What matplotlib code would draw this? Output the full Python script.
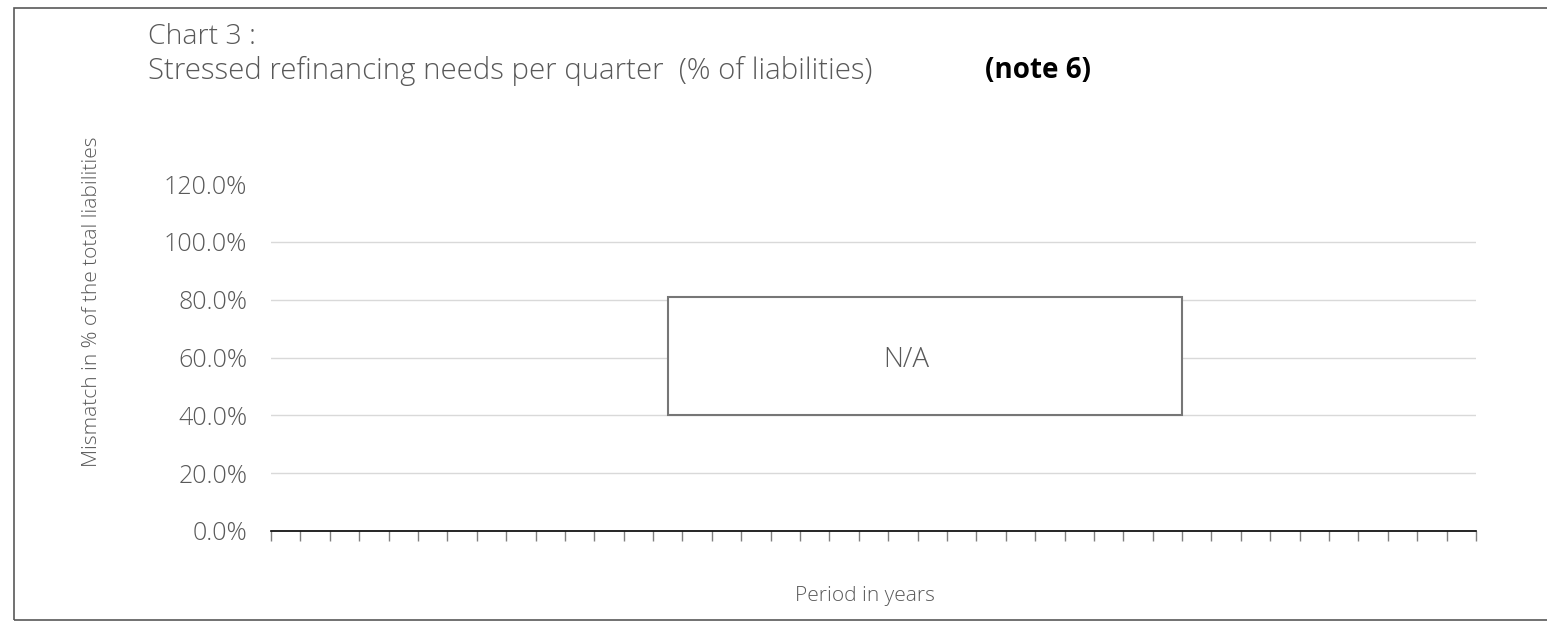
import numpy as np
import matplotlib.pyplot as plt
from matplotlib.patches import Rectangle

# Chart data: quarterly buckets, no values reported (N/A)
quarters = list(range(1, 42))
refinancing_needs = [0.0] * len(quarters)
y_ticks = [0.0, 0.2, 0.4, 0.6, 0.8, 1.0, 1.2]
y_tick_labels = ['0.0%', '20.0%', '40.0%', '60.0%', '80.0%', '100.0%', '120.0%']

plt.rcParams['font.family'] = ['Open Sans', 'DejaVu Sans']
grey = '#595959'

fig = plt.figure(figsize=(15.47, 6.21), dpi=100)
ax = fig.add_axes([271 / 1547, 1 - 531 / 621, 1205 / 1547, 347 / 621])

# outer chart border
fig.patches.append(Rectangle((14 / 1547, 0.002), 1.2, 0.985, transform=fig.transFigure,
                             fill=False, edgecolor='#595959', linewidth=1.2))

ax.bar(np.array(quarters) - 0.5, refinancing_needs, width=0.6, color='#4472c4')
ax.set_xlim(0, len(quarters))
ax.set_ylim(0, 1.2)
ax.set_yticks(y_ticks)
ax.set_yticklabels(y_tick_labels, color=grey, fontsize=18, weight='light')
ax.tick_params(axis='y', length=0, pad=17)
ax.set_xticks(range(0, len(quarters) + 1))
ax.set_xticklabels([])
ax.tick_params(axis='x', length=7, width=1, color='#808080', direction='out')

for y in y_ticks[1:-1]:
    ax.axhline(y, color='#d9d9d9', linewidth=1, zorder=0)
for side in ['top', 'right', 'left']:
    ax.spines[side].set_visible(False)
ax.spines['bottom'].set_color('black')
ax.spines['bottom'].set_linewidth(1.2)

# N/A box
ax.add_patch(Rectangle((13.5, 0.40), 17.5, 0.41, facecolor='white', edgecolor='#767676',
                       linewidth=1.5, zorder=3))
ax.text(21.6, 0.59, 'N/A', ha='center', va='center', fontsize=20, color=grey,
        weight='light', zorder=4)

fig.text(92 / 1547, 1 - 302 / 621, 'Mismatch in % of the total liabilities', color=grey,
         fontsize=15, rotation=90, ha='center', va='center', weight='light')
fig.text(865 / 1547, 1 - 596 / 621, 'Period in years', color=grey, fontsize=15,
         ha='center', va='center', weight='light')

fig.text(148 / 1547, 1 - 37 / 621, 'Chart 3 :', fontsize=20.5, color=grey, va='center',
         weight='light')
fig.text(148 / 1547, 1 - 71 / 621, 'Stressed refinancing needs per quarter  (% of liabilities)',
         fontsize=21.2, color=grey, va='center', weight='light')
fig.text(985 / 1547, 1 - 71 / 621, '(note 6)', fontsize=20, color='black', weight='bold',
         va='center')

fig.savefig('out.png', dpi=100)
